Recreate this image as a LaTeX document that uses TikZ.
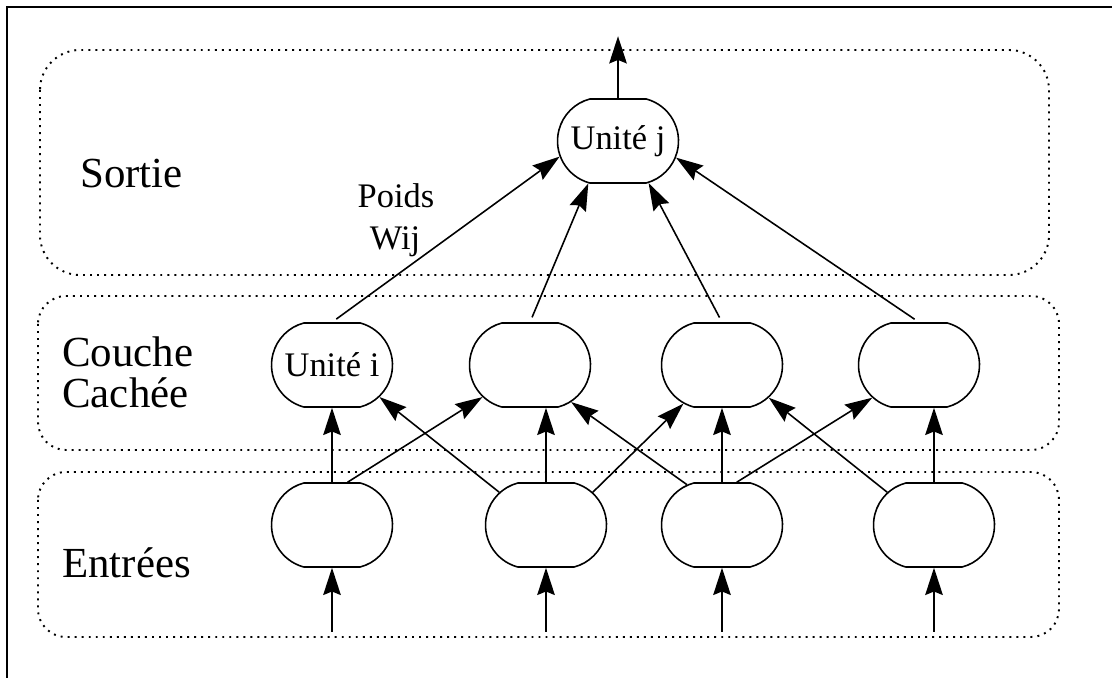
\documentclass[tikz,border=0pt]{standalone}
\usepackage{fontspec}
\setmainfont{Liberation Serif}
\usetikzlibrary{arrows.meta, shapes.misc}

\begin{document}
\begin{tikzpicture}[x=0.02cm, y=-0.02cm,
    unit/.style={draw, line width=0.9pt, rounded rectangle, rounded rectangle arc length=150,
      minimum width=2.42cm, minimum height=1.68cm, inner sep=0pt, font=\fontsize{19.6}{23}\selectfont},
    layer/.style={line width=1.1pt, dash pattern=on 1.1pt off 2.9pt},
    lbl/.style={anchor=base west, inner sep=0pt, font=\fontsize{24.4}{29}\selectfont},
    small/.style={anchor=base, inner sep=0pt, font=\fontsize{19.6}{23}\selectfont},
    arr/.style={-{Stealth[length=15.5pt, width=10pt, inset=2pt]}, line width=0.9pt}]
    \useasboundingbox (0,0) rectangle (1112,678);
    \draw[line width=1.2pt] (7,678) -- (7,7) -- (1112,7);

    % couches
    \draw[layer, rounded corners=0.8cm] (40,50) rectangle (1049,275);
    \draw[layer, rounded corners=0.56cm] (38,296) rectangle (1059,450);
    \draw[layer, rounded corners=0.56cm] (38,472) rectangle (1059,637);
    \node[lbl] at (80,188) {Sortie};
    \node[lbl] at (62,367) {Couche};
    \node[lbl] at (62,408) {Cachée};
    \node[lbl] at (62,577) {Entrées};

    % unites
    \node[unit] (uj) at (618,141) {Unité j};
    \node[unit] (h1) at (332,365) {Unité i};
    \foreach \n/\x in {2/530, 3/722, 4/919}
      \node[unit] (h\n) at (\x,365) {};
    \foreach \n/\x in {1/332, 2/546, 3/722, 4/934}
      \node[unit] (e\n) at (\x,525) {};

    \node[small] at (396,208) {Poids};
    \node[small] at (395,250) {Wij};

    % connexions
    \path (uj.north) ++(0,-62) coordinate (out);
    \draw[arr] (uj.north) -- (out);
    \foreach \n/\a in {1/195, 2/235, 3/306, 4/344}
      \draw[arr, shorten <=3pt] (h\n.north) -- (uj.\a);
    \foreach \n in {1,...,4} {
      \path (e\n.south) ++(0,64) coordinate (x\n);
      \draw[arr] (x\n) -- (e\n.south);
      \draw[arr] (e\n.north) -- (e\n.north |- h\n.south);
    }
    \draw[arr] (e1.70) -- (h2.214);
    \draw[arr] (e2.145) -- (h1.326);
    \draw[arr] (e2.35) -- (h3.225);
    \draw[arr] (e3.131) -- (h2.318);
    \draw[arr] (e3.71) -- (h4.215);
    \draw[arr] (e4.145) -- (h3.325);
\end{tikzpicture}
\end{document}
